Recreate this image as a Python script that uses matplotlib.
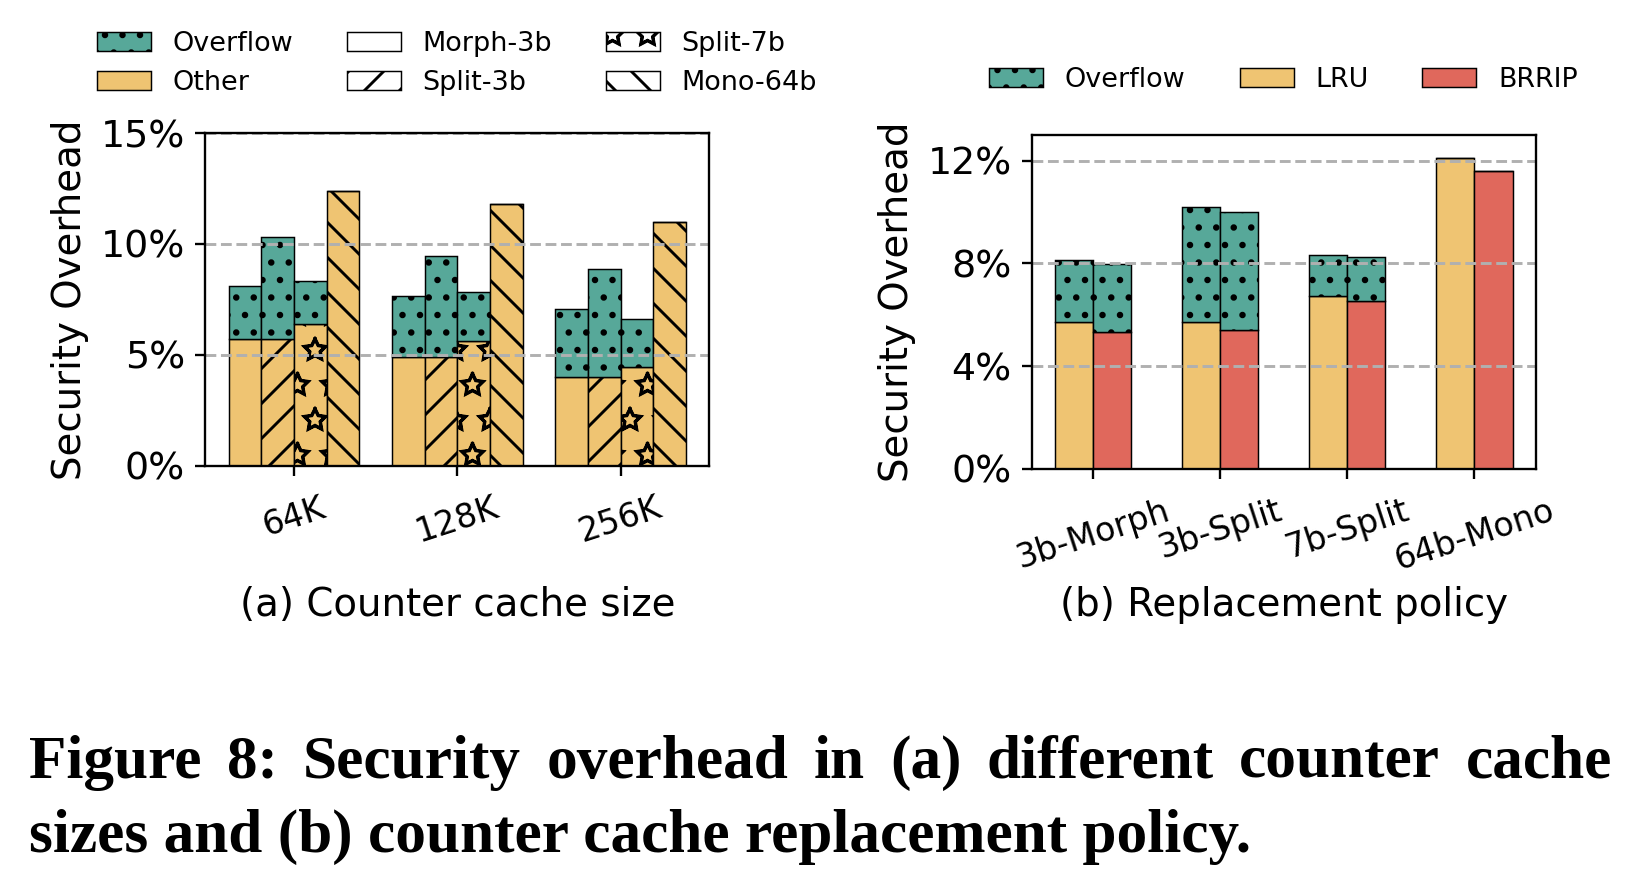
import numpy as np
import matplotlib
matplotlib.use("Agg")
import matplotlib.pyplot as plt
import matplotlib.hatch
from matplotlib.patches import Patch

# outline stars like the original figure
matplotlib.hatch.Stars.filled = False

# colours
teal = "#57a899"
orange = "#efc472"
red = "#e0685c"

# (a) counter cache size
sizes = ["64K", "128K", "256K"]
configs = ["Morph-3b", "Split-3b", "Split-7b", "Mono-64b"]
hatches = ["", "//", "*", "\\\\"]
# total overhead (%) per config, per cache size
total_a = {
    "Morph-3b": [8.12, 7.64, 7.09],
    "Split-3b": [10.33, 9.44, 8.87],
    "Split-7b": [8.33, 7.82, 6.61],
    "Mono-64b": [12.39, 11.80, 10.98],
}
other_a = {
    "Morph-3b": [5.71, 4.90, 4.00],
    "Split-3b": [5.71, 4.90, 4.00],
    "Split-7b": [6.41, 5.62, 4.44],
    "Mono-64b": [12.39, 11.80, 10.98],
}

# (b) replacement policy
schemes = ["3b-Morph", "3b-Split", "7b-Split", "64b-Mono"]
lru_total = [8.13, 10.18, 8.34, 12.09]
lru_other = [5.71, 5.71, 6.74, 12.09]
brrip_total = [7.96, 9.99, 8.26, 11.60]
brrip_other = [5.35, 5.40, 6.54, 11.60]

plt.rcParams["hatch.linewidth"] = 1.0
plt.rcParams["font.family"] = "DejaVu Sans"

DPI = 210
W, H = 1628 / DPI, 882 / DPI
fig = plt.figure(figsize=(W, H), dpi=DPI)
ax1 = fig.add_axes([0.1261, 0.4717, 0.3096, 0.3775])
ax2 = fig.add_axes([0.6339, 0.4683, 0.3093, 0.3786])

# ---- panel (a)
x = np.arange(len(sizes))
w = 0.2
for i, c in enumerate(configs):
    pos = x + (i - 1.5) * w
    oth = np.array(other_a[c])
    tot = np.array(total_a[c])
    ax1.bar(pos, oth, w, color=orange, edgecolor="black", linewidth=0.5, hatch=hatches[i])
    ax1.bar(pos, tot - oth, w, bottom=oth, color=teal, edgecolor="black", linewidth=0.5, hatch="..")

ax1.set_xlim(-0.543, 2.543)
ax1.set_ylim(0, 15)
ax1.set_yticks([0, 5, 10, 15])
ax1.set_yticklabels(["0%", "5%", "10%", "15%"], fontsize=13)
ax1.set_xticks(x)
ax1.set_xticklabels(sizes, rotation=18, fontsize=11.4)
ax1.tick_params(axis="x", pad=5.2)
ax1.yaxis.grid(True, linestyle="--", color="#b0b0b0", linewidth=1.0)
ax1.set_ylabel("Security Overhead", fontsize=13.3, labelpad=3.8)
ax1.set_xlabel("(a) Counter cache size", fontsize=13.3)
ax1.xaxis.set_label_coords(0.5, -0.36)

handles_a = [
    Patch(facecolor=teal, edgecolor="black", linewidth=0.5, hatch=".."),
    Patch(facecolor=orange, edgecolor="black", linewidth=0.5),
    Patch(facecolor="white", edgecolor="black", linewidth=0.5),
    Patch(facecolor="white", edgecolor="black", linewidth=0.5, hatch="//"),
    Patch(facecolor="white", edgecolor="black", linewidth=0.5, hatch="*"),
    Patch(facecolor="white", edgecolor="black", linewidth=0.5, hatch="\\\\"),
]
labels_a = ["Overflow", "Other", "Morph-3b", "Split-3b", "Split-7b", "Mono-64b"]
fig.legend(handles_a, labels_a, ncol=3, loc="center", bbox_to_anchor=(0.2807, 0.928),
           frameon=False, fontsize=9.25, labelspacing=0.5)

# ---- panel (b)
xb = np.arange(len(schemes))
wb = 0.3
lt = np.array(lru_total)
lo = np.array(lru_other)
bt = np.array(brrip_total)
bo = np.array(brrip_other)
ax2.bar(xb - wb / 2, lo, wb, color=orange, edgecolor="black", linewidth=0.5)
ax2.bar(xb - wb / 2, lt - lo, wb, bottom=lo, color=teal, edgecolor="black", linewidth=0.5, hatch="..")
ax2.bar(xb + wb / 2, bo, wb, color=red, edgecolor="black", linewidth=0.5)
ax2.bar(xb + wb / 2, bt - bo, wb, bottom=bo, color=teal, edgecolor="black", linewidth=0.5, hatch="..")

ax2.set_xlim(-0.48, 3.48)
ax2.set_ylim(0, 13)
ax2.set_yticks([0, 4, 8, 12])
ax2.set_yticklabels(["0%", "4%", "8%", "12%"], fontsize=13)
ax2.set_xticks(xb)
ax2.set_xticklabels(schemes, rotation=18, fontsize=11.4)
ax2.tick_params(axis="x", pad=5.2)
ax2.yaxis.grid(True, linestyle="--", color="#b0b0b0", linewidth=1.0)
ax2.set_ylabel("Security Overhead", fontsize=13.3, labelpad=3.8)
ax2.set_xlabel("(b) Replacement policy", fontsize=13.3)
ax2.xaxis.set_label_coords(0.5, -0.35)

handles_b = [
    Patch(facecolor=teal, edgecolor="black", linewidth=0.5, hatch=".."),
    Patch(facecolor=orange, edgecolor="black", linewidth=0.5),
    Patch(facecolor=red, edgecolor="black", linewidth=0.5),
]
fig.legend(handles_b, ["Overflow", "LRU", "BRRIP"], ncol=3, loc="center",
           bbox_to_anchor=(0.7884, 0.909), frameon=False, fontsize=9.25)

# caption, first line justified across the figure
cap_font = dict(family="Liberation Serif", weight="bold", fontsize=21)
line1 = "Figure 8: Security overhead in (a) different counter cache"
line2 = "sizes and (b) counter cache replacement policy."
renderer = fig.canvas.get_renderer()
fig_w_px = W * DPI
words = line1.split()
objs = [fig.text(0, 0.135, wd, va="center", ha="left", **cap_font) for wd in words]
widths = [o.get_window_extent(renderer).width for o in objs]
x0, x1 = 29.0, 1612.0
gap = (x1 - x0 - sum(widths)) / (len(words) - 1)
xpos = x0
for o, wd in zip(objs, widths):
    o.set_x(xpos / fig_w_px)
    xpos += wd + gap
fig.text(x0 / fig_w_px, 0.051, line2, va="center", ha="left", **cap_font)

fig.savefig("out.png", dpi=DPI)
